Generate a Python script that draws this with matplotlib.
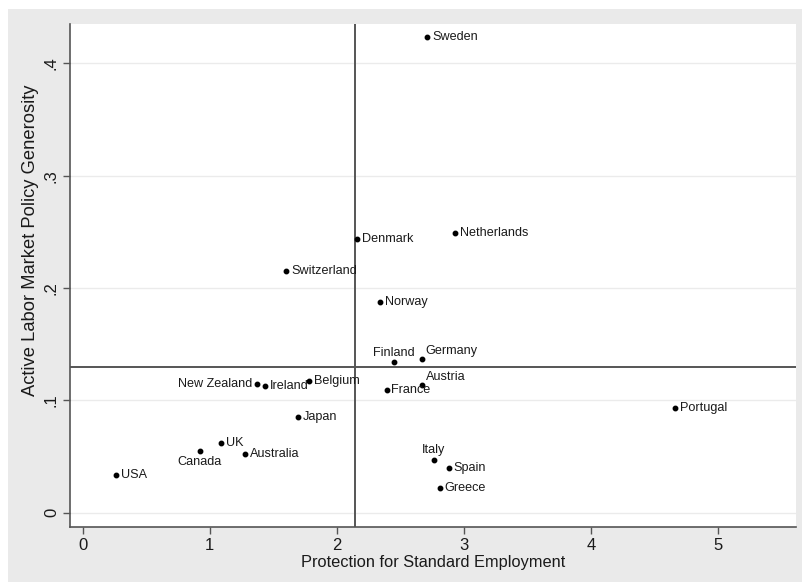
import numpy as np
import matplotlib.pyplot as plt
from matplotlib.patches import Rectangle

plt.rcParams['font.family'] = ['Liberation Sans', 'DejaVu Sans']

# Country scores
countries = ['Sweden', 'Denmark', 'Netherlands', 'Switzerland', 'Norway', 'Finland',
             'Germany', 'Austria', 'France', 'New Zealand', 'Ireland', 'Belgium',
             'Japan', 'UK', 'Canada', 'Australia', 'USA', 'Portugal', 'Italy',
             'Spain', 'Greece']
protection = [2.71, 2.16, 2.93, 1.60, 2.34, 2.45, 2.67, 2.67, 2.39, 1.37, 1.43, 1.78,
              1.69, 1.09, 0.92, 1.28, 0.26, 4.66, 2.76, 2.88, 2.81]
almp = [0.423, 0.244, 0.249, 0.215, 0.188, 0.134, 0.137, 0.114, 0.109, 0.115, 0.113,
        0.117, 0.085, 0.062, 0.055, 0.052, 0.034, 0.093, 0.047, 0.040, 0.022]

# mean reference lines
mean_x = 2.14
mean_y = 0.130

# label placement (clock position like stata mlabvpos)
positions = {'New Zealand': 9, 'Canada': 6, 'Finland': 12, 'Italy': 12,
             'Germany': 1, 'Austria': 1}

fig = plt.figure(figsize=(8.03, 5.82), dpi=100, facecolor='white')
fig.patches.append(Rectangle((8 / 803, 0), 1, 1 - 9 / 582, transform=fig.transFigure,
                             facecolor='#eaeaea', edgecolor='none', zorder=-10))
ax = fig.add_axes([70 / 803, 55 / 582, 726 / 803, 503 / 582])
ax.set_facecolor('white')

ax.set_xlim(-0.10, 5.61)
ax.set_ylim(-0.0127, 0.435)

for yv in [0, 0.1, 0.2, 0.3, 0.4]:
    ax.axhline(yv, color='#ebebeb', lw=1, zorder=0)

ax.axvline(mean_x, color='#555555', lw=1.4, zorder=1)
ax.axhline(mean_y, color='#555555', lw=1.4, zorder=1)

ax.plot(protection, almp, 'o', color='black', markersize=3.2, zorder=3)

offsets = {3: (3.5, 0, 'left', 'center'), 9: (-3.5, 0, 'right', 'center'),
           6: (0, -3.5, 'center', 'top'), 12: (0, 2.5, 'center', 'bottom'),
           1: (2.5, 1.5, 'left', 'bottom')}
for name, xv, yv in zip(countries, protection, almp):
    dx, dy, ha, va = offsets[positions.get(name, 3)]
    ax.annotate(name, (xv, yv), xytext=(dx, dy), textcoords='offset points',
                ha=ha, va=va, fontsize=9.1, color='#1a1a1a', zorder=4)

ax.set_xticks([0, 1, 2, 3, 4, 5])
ax.set_yticks([0, 0.1, 0.2, 0.3, 0.4])
ax.set_yticklabels(['0', '.1', '.2', '.3', '.4'], rotation=90, va='center')
ax.tick_params(axis='both', direction='out', length=5, width=1, color='#555555',
               labelsize=12, labelcolor='#1a1a1a', pad=3)

for s in ['top', 'right']:
    ax.spines[s].set_visible(False)
for s in ['left', 'bottom']:
    ax.spines[s].set_color('#555555')
    ax.spines[s].set_linewidth(1.2)

ax.set_xlabel('Protection for Standard Employment', fontsize=11.8, color='#1a1a1a', labelpad=1)
ax.set_ylabel('Active Labor Market Policy Generosity', fontsize=13.2, color='#1a1a1a')
ax.yaxis.set_label_coords(-31 / 726, 287 / 503)

fig.savefig('out.png', dpi=100, facecolor=fig.get_facecolor())
